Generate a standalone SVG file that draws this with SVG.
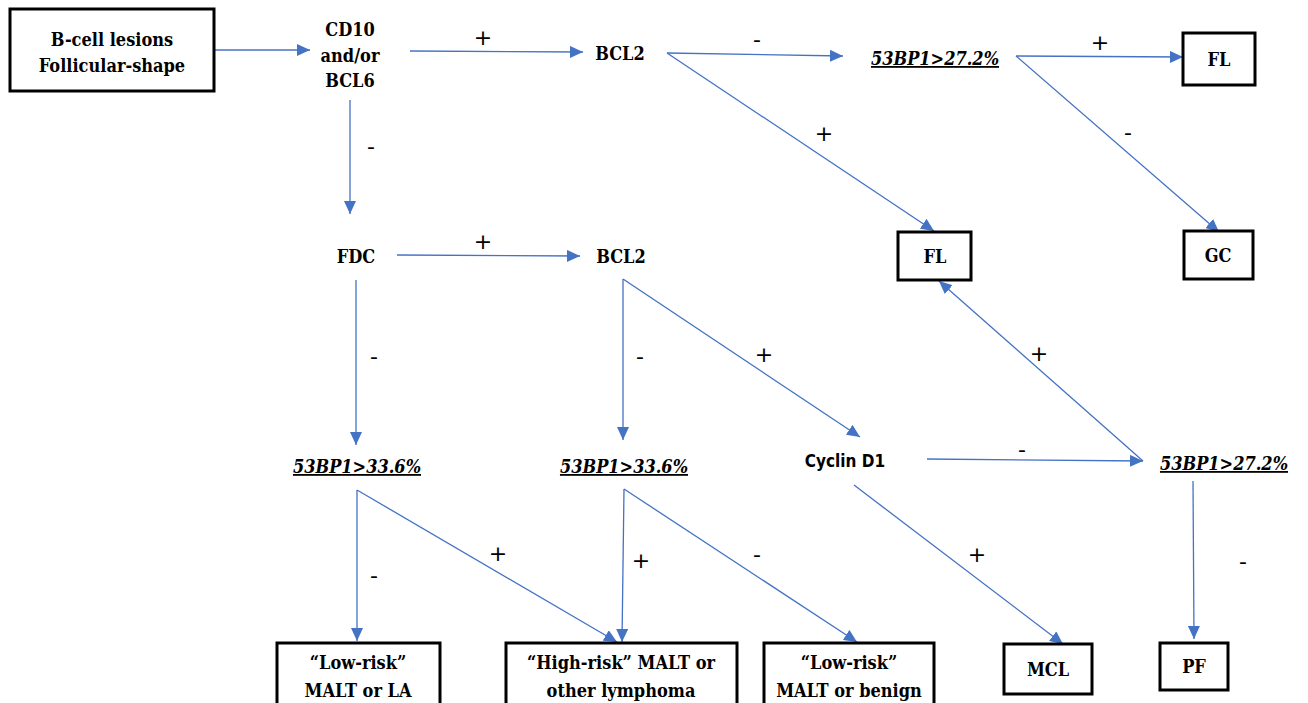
<svg xmlns="http://www.w3.org/2000/svg" width="1308" height="703" viewBox="0 0 1308 703">
<defs>
<marker id="ah" markerUnits="userSpaceOnUse" markerWidth="14" markerHeight="12" refX="13" refY="6" orient="auto">
<path d="M0,0 L13,6 L0,12 z" fill="#4472C4"/>
</marker>
<style>
.box{fill:#fff;stroke:#000;stroke-width:3}
.e{stroke:#4472C4;stroke-width:1.3;fill:none;marker-end:url(#ah)}
.lbl{font-family:'DejaVu Sans',sans-serif;font-size:22px;fill:#000;text-anchor:middle}
.nodes{font-family:'DejaVu Serif Condensed','DejaVu Serif',serif;font-stretch:condensed;font-weight:bold;font-size:18px;fill:#000;text-anchor:middle}
.it{font-style:italic;font-size:18px;text-decoration:underline}
.cy{font-family:'DejaVu Sans Condensed','DejaVu Sans',sans-serif;font-size:17px}
</style>
</defs>
<rect width="1308" height="703" fill="#fff"/>
<g id="connectors">
<line class="e" x1="214" y1="50" x2="310" y2="50"/>
<line class="e" x1="410" y1="51" x2="583" y2="52"/>
<line class="e" x1="667" y1="53" x2="843" y2="56"/>
<line class="e" x1="1016" y1="56" x2="1183" y2="57"/>
<line class="e" x1="1016" y1="56" x2="1219" y2="232"/>
<line class="e" x1="667" y1="53" x2="934" y2="231"/>
<line class="e" x1="350" y1="100" x2="350" y2="214"/>
<line class="e" x1="397" y1="255" x2="580" y2="256"/>
<line class="e" x1="356" y1="280" x2="356" y2="445"/>
<line class="e" x1="623" y1="279" x2="623" y2="440"/>
<line class="e" x1="623" y1="279" x2="860" y2="437"/>
<line class="e" x1="927" y1="459" x2="1143" y2="461"/>
<line class="e" x1="1143" y1="461" x2="939" y2="281"/>
<line class="e" x1="1193" y1="481" x2="1194" y2="639"/>
<line class="e" x1="854" y1="485" x2="1063" y2="644"/>
<line class="e" x1="357" y1="490" x2="357" y2="641"/>
<line class="e" x1="357" y1="490" x2="617" y2="642"/>
<line class="e" x1="624" y1="489" x2="622" y2="642"/>
<line class="e" x1="624" y1="489" x2="857" y2="642"/>
</g>
<g id="edge-labels" class="lbl">
<text x="483" y="45">+</text>
<text x="757" y="47">-</text>
<text x="1100" y="50">+</text>
<text x="1128" y="140">-</text>
<text x="824" y="141">+</text>
<text x="371" y="154">-</text>
<text x="483" y="249">+</text>
<text x="374" y="364">-</text>
<text x="640" y="364">-</text>
<text x="764" y="362">+</text>
<text x="1039" y="361">+</text>
<text x="1022" y="457">-</text>
<text x="1243" y="569">-</text>
<text x="977" y="562">+</text>
<text x="498" y="561">+</text>
<text x="374" y="583">-</text>
<text x="641" y="568">+</text>
<text x="757" y="562">-</text>
</g>
<g class="nodes">
<g id="n-bcell"><rect class="box" x="10" y="9" width="204" height="82"/><text x="112" y="46">B-cell lesions</text><text x="112" y="72">Follicular-shape</text></g>
<g id="n-cd10"><text x="350" y="36">CD10</text><text x="350" y="62">and/or</text><text x="350" y="87">BCL6</text></g>
<g id="n-bcl2a"><text x="620" y="60">BCL2</text></g>
<g id="n-53a"><text class="it" x="935" y="65">53BP1&gt;27.2%</text></g>
<g id="n-fl1"><rect class="box" x="1183" y="33" width="72" height="52"/><text x="1219" y="66">FL</text></g>
<g id="n-gc"><rect class="box" x="1184" y="231" width="69" height="48"/><text x="1218" y="262">GC</text></g>
<g id="n-fl2"><rect class="box" x="898" y="232" width="73" height="48"/><text x="935" y="263">FL</text></g>
<g id="n-fdc"><text x="356" y="263">FDC</text></g>
<g id="n-bcl2b"><text x="621" y="263">BCL2</text></g>
<g id="n-53b"><text class="it" x="357" y="473">53BP1&gt;33.6%</text></g>
<g id="n-53c"><text class="it" x="624" y="473">53BP1&gt;33.6%</text></g>
<g id="n-cyclin"><text class="cy" x="845" y="467">Cyclin D1</text></g>
<g id="n-53d"><text class="it" x="1224" y="470">53BP1&gt;27.2%</text></g>
<g id="n-low1"><rect class="box" x="277" y="643" width="163" height="62"/><text x="358" y="669">“Low-risk”</text><text x="358" y="697">MALT or LA</text></g>
<g id="n-high"><rect class="box" x="506" y="643" width="231" height="62"/><text x="621" y="669">“High-risk” MALT or</text><text x="621" y="697">other lymphoma</text></g>
<g id="n-low2"><rect class="box" x="764" y="643" width="170" height="62"/><text x="849" y="669">“Low-risk”</text><text x="849" y="697">MALT or benign</text></g>
<g id="n-mcl"><rect class="box" x="1004" y="644" width="88" height="50"/><text x="1048" y="676">MCL</text></g>
<g id="n-pf"><rect class="box" x="1160" y="643" width="68" height="47"/><text x="1194" y="673">PF</text></g>
</g>
</svg>
